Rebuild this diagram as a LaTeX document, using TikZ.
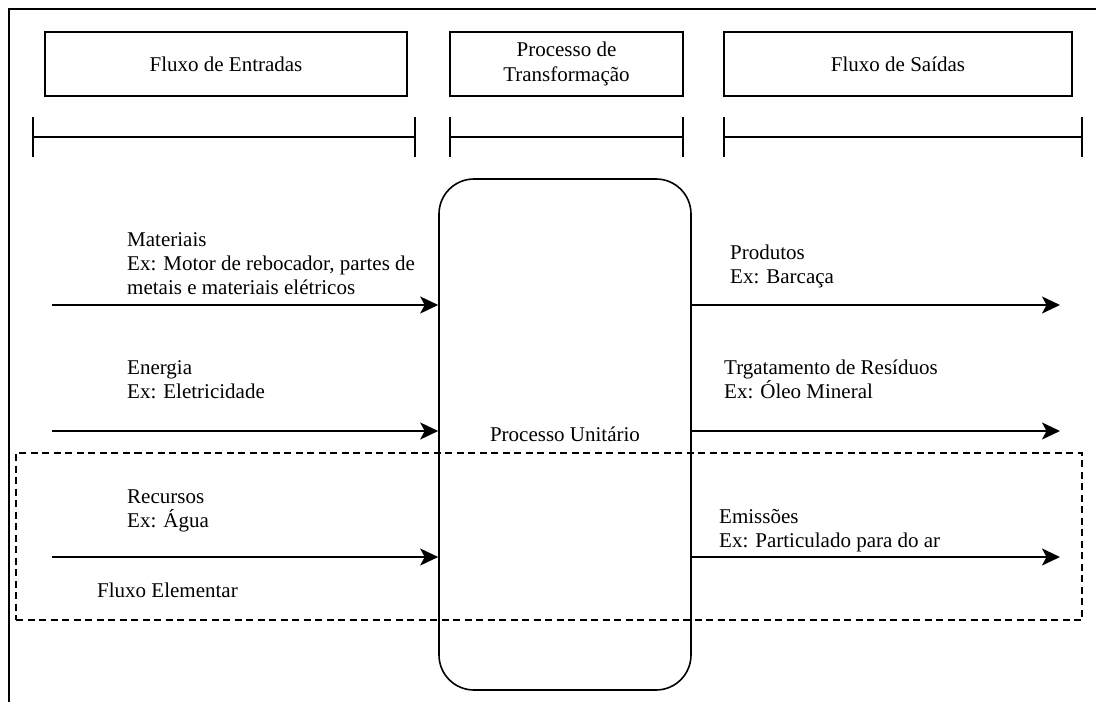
\documentclass[tikz,border=0pt]{standalone}
\usepackage{fontspec}
\setmainfont{Liberation Serif}
\newfontfamily\labelfont{Liberation Serif}
\usetikzlibrary{arrows.meta}
\begin{document}
\begin{tikzpicture}[x=1pt,y=-1pt,
  every node/.style={font=\labelfont\fontsize{21}{24}\selectfont},
  header/.style={draw, line width=2pt, minimum height=64pt, inner sep=0pt, align=center,
    font=\labelfont\fontsize{21}{25}\selectfont},
  bar/.style={line width=2pt},
  flow/.style={line width=2pt, -{Stealth[length=18pt,width=17pt,inset=4.5pt]}},
  lbl/.style={anchor=base west, align=left, inner sep=0pt},
  unit/.style={draw, rounded corners=35pt, line width=1.6pt, minimum width=252pt, minimum height=511pt, inner sep=0pt},
  elem/.style={draw, line width=2.3pt, dash pattern=on 7pt off 4.5pt, minimum width=1066pt, minimum height=167pt, inner sep=0pt},
]
\useasboundingbox (0,0) rectangle (1096,702);
\fill[white] (0,0) rectangle (1096,702);

% outer frame (top and left edges)
\draw[line width=2.2pt] (1096,9) -- (9,9) -- (9,702);

% column headers
\node[header, minimum width=362pt] (hin)  at (226,64)   {Fluxo de Entradas};
\node[header, minimum width=233pt] (hpt)  at (566.5,64) {Processo de\\Transformação};
\node[header, minimum width=348pt] (hout) at (898,64)   {Fluxo de Saídas};

% span bars under the headers
\draw[bar] (33,117) -- (33,157) (33,137) -- (415,137) (415,117) -- (415,157);
\draw[bar] (450,117) -- (450,157) (450,137) -- (683,137) (683,117) -- (683,157);
\draw[bar] (724,117) -- (724,157) (724,137) -- (1082,137) (1082,117) -- (1082,157);

% unit process
\node[unit] (pu) at (565,434.5) {Processo Unitário};

% elementary flow region
\node[elem] (ef) at (549,536.5) {};

% inputs
\coordinate (i1) at (52,305);
\coordinate (i2) at (52,431);
\coordinate (i3) at (52,557);
\draw[flow] (i1) -- (i1 -| pu.west);
\draw[flow] (i2) -- (i2 -| pu.west);
\draw[flow] (i3) -- (i3 -| pu.west);

% outputs
\coordinate (o1) at (1060,305);
\coordinate (o2) at (1060,431);
\coordinate (o3) at (1060,557);
\draw[flow] (o1 -| pu.east) -- (o1);
\draw[flow] (o2 -| pu.east) -- (o2);
\draw[flow] (o3 -| pu.east) -- (o3);

% flow labels (anchored at the baseline of their last line)
\node[lbl] (lmat) at (127,294) {Materiais\\Ex: Motor de rebocador, partes de\\metais e materiais elétricos};
\node[lbl] (lene) at (127,398) {Energia\\Ex: Eletricidade};
\node[lbl] (lrec) at (127,527) {Recursos\\Ex: Água};
\node[lbl] (lfe)  at (97,597)  {Fluxo Elementar};
\node[lbl] (lpro) at (730,283) {Produtos\\Ex: Barcaça};
\node[lbl] (ltra) at (724,398) {Trgatamento de Resíduos\\Ex: Óleo Mineral};
\node[lbl] (lemi) at (719,547) {Emissões\\Ex: Particulado para do ar};
\end{tikzpicture}
\end{document}
